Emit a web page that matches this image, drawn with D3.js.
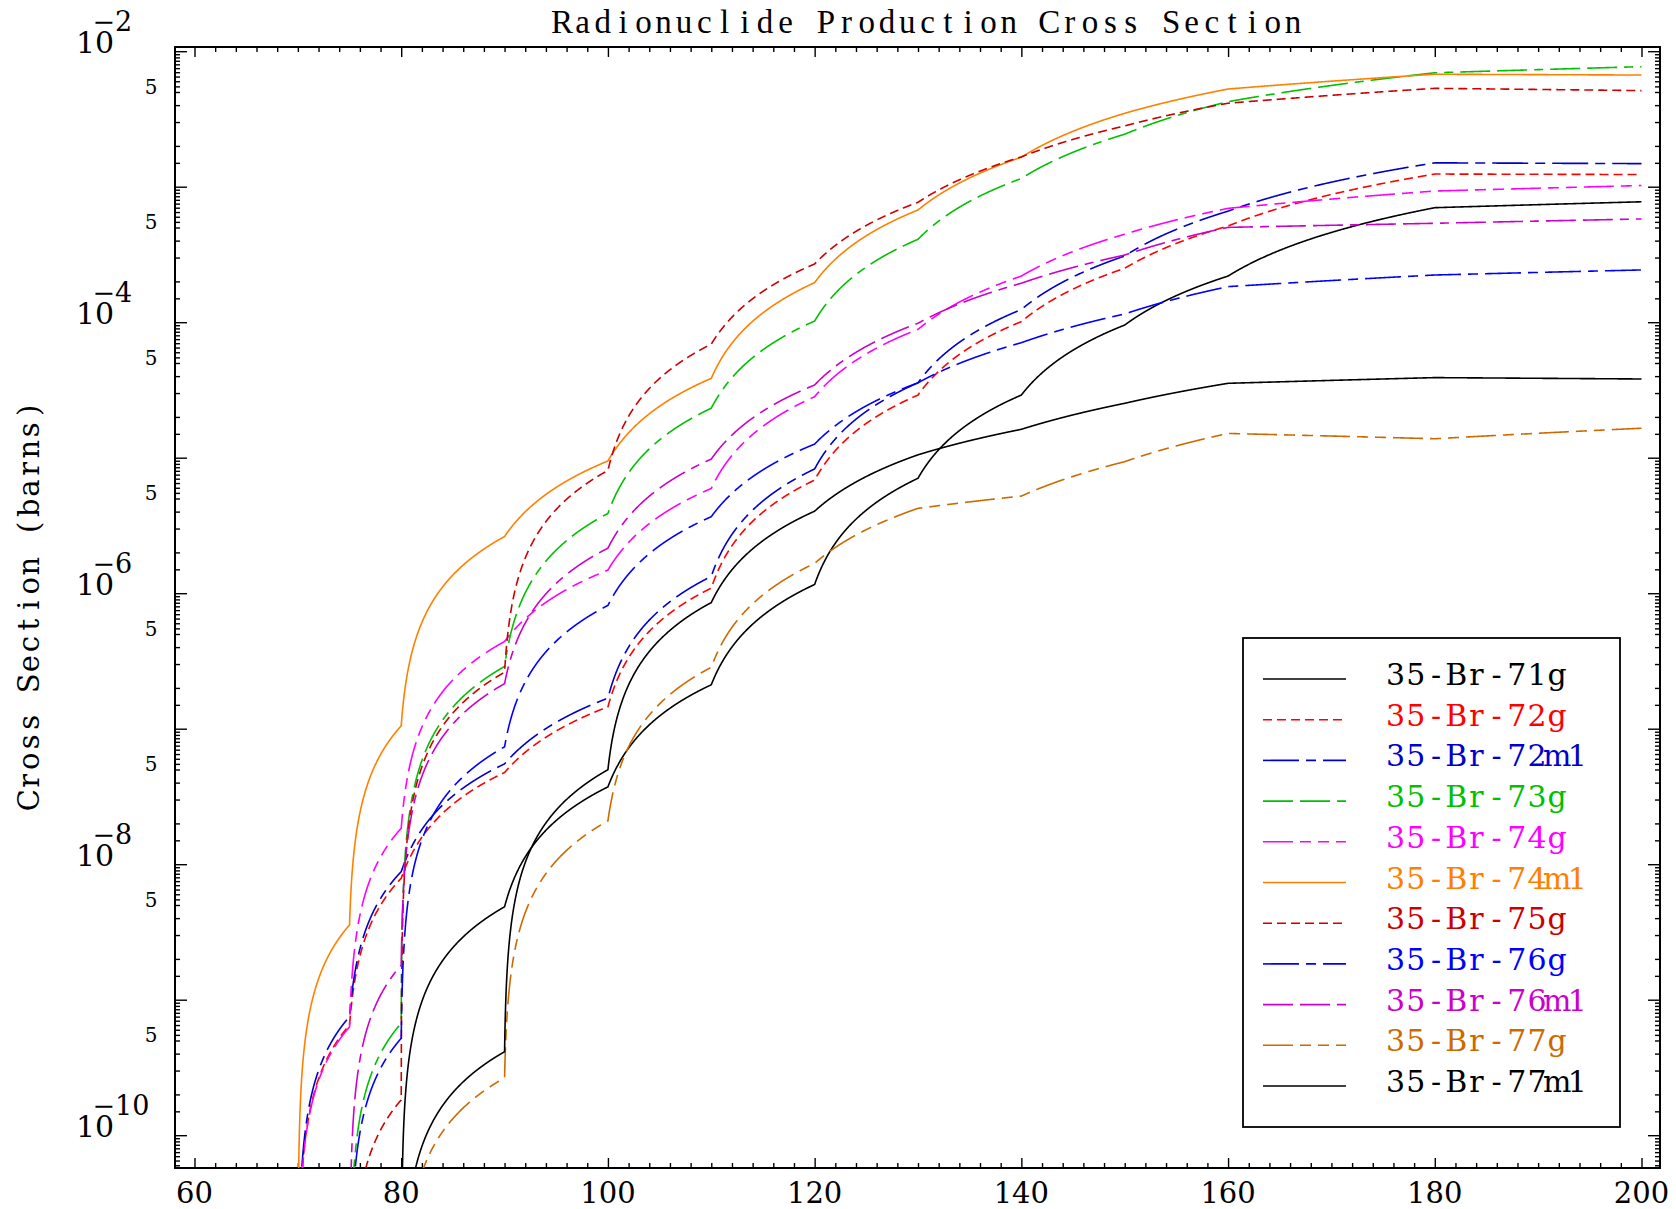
<!DOCTYPE html>
<html>
<head>
<meta charset="utf-8">
<script src="https://d3js.org/d3.v7.min.js"></script>
<style>
body { margin: 0; background: white; }
svg { display: block; }
.axis path.domain { display: none; }
.axis line { stroke: black; stroke-width: 1.4px; }
.axis text { display: none; }
</style>
</head>
<body>
<svg width="1676" height="1209"></svg>
<script>
// proton energies (MeV) where the cross sections are given
const energies = [70, 75, 80, 90, 100, 110, 120, 130, 140, 150, 160, 180, 200];

// cross sections in barns, 0 = below threshold
const br71g  = [0, 0, 0, 4.85e-9, 3.72e-8, 2.11e-7, 1.16e-6, 7.05e-6, 2.90e-5, 9.53e-5, 2.19e-4, 7.00e-4, 7.74e-4];
const br72g  = [0, 6.5e-10, 7.87e-9, 4.75e-8, 1.45e-7, 1.09e-6, 6.84e-6, 2.90e-5, 1.01e-4, 2.50e-4, 5.13e-4, 1.24e-3, 1.23e-3];
const br72m1 = [0, 7.5e-10, 8.81e-9, 5.50e-8, 1.68e-7, 1.33e-6, 8.26e-6, 3.57e-5, 1.24e-4, 3.08e-4, 6.60e-4, 1.50e-3, 1.48e-3];
const br73g  = [0, 0, 6.70e-10, 2.88e-7, 3.88e-6, 2.32e-5, 1.02e-4, 4.09e-4, 1.15e-3, 2.44e-3, 4.24e-3, 6.93e-3, 7.69e-3];
const br74g  = [0, 6.3e-10, 1.84e-8, 4.40e-7, 1.48e-6, 5.93e-6, 2.82e-5, 8.85e-5, 2.19e-4, 4.46e-4, 6.92e-4, 9.29e-4, 1.02e-3];
const br74m1 = [0, 3.56e-9, 1.05e-7, 2.62e-6, 9.46e-6, 3.85e-5, 1.96e-4, 6.73e-4, 1.65e-3, 3.48e-3, 5.26e-3, 6.76e-3, 6.67e-3];
const br75g  = [0, 0, 1.82e-10, 2.61e-7, 8.05e-6, 6.89e-5, 2.69e-4, 7.67e-4, 1.66e-3, 2.81e-3, 4.13e-3, 5.32e-3, 5.12e-3];
const br76g  = [0, 0, 5.19e-10, 7.35e-8, 8.13e-7, 3.67e-6, 1.26e-5, 3.57e-5, 7.06e-5, 1.15e-4, 1.83e-4, 2.23e-4, 2.43e-4];
const br76m1 = [0, 0, 1.80e-9, 2.15e-7, 2.15e-6, 9.77e-6, 3.44e-5, 9.82e-5, 1.94e-4, 3.13e-4, 5.01e-4, 5.37e-4, 5.78e-4];
const br77g  = [0, 0, 0, 2.65e-10, 2.09e-8, 2.84e-7, 1.66e-6, 4.23e-6, 5.21e-6, 9.35e-6, 1.51e-5, 1.38e-5, 1.65e-5];
const br77m1 = [0, 0, 0, 4.13e-10, 4.98e-8, 8.53e-7, 4.03e-6, 1.05e-5, 1.62e-5, 2.52e-5, 3.54e-5, 3.90e-5, 3.81e-5];

const names = ["35-Br-71g", "35-Br-72g", "35-Br-72m1", "35-Br-73g", "35-Br-74g", "35-Br-74m1",
               "35-Br-75g", "35-Br-76g", "35-Br-76m1", "35-Br-77g", "35-Br-77m1"];
const allSeries = [br71g, br72g, br72m1, br73g, br74g, br74m1, br75g, br76g, br76m1, br77g, br77m1];

const xTickLabels = [60, 80, 100, 120, 140, 160, 180, 200];
const yDecadeLabels = [-2, -4, -6, -8, -10];
const yFiveLabels = [-3, -4, -5, -6, -7, -8, -9, -10];

// line styles
const colors = ["#000000", "#ff0000", "#0000cc", "#00c000", "#ff00ff", "#ff8000",
                "#cc0000", "#0000ff", "#cc00cc", "#cc6a00", "#000000"];
const dashes = ["none", "9,5", "36,7,10,7", "30,7,30,7,9,7", "30,7,11,7,11,7", "none",
                "9,5", "36,7,10,7", "30,7,30,7,9,7", "30,7,11,7,11,7", "none"];

const svg = d3.select("svg");
const L = 175, R = 1660, T = 47, B = 1168;

const x = d3.scaleLinear().domain([60, 200]).range([194.5, 1641.5]);
const y = d3.scaleLog().domain([1e-2, 1e-10]).range([51.2, 1135.2]);

// text laid out in fixed-width cells, like the plotter's font
function cellText(g, str, x0, yb, cell, family, size, color) {
  g.append("text")
    .attr("x", str.split("").map((c, i) => (x0 + cell * (i + 0.5)).toFixed(1)).join(" "))
    .attr("y", yb)
    .attr("text-anchor", "middle")
    .style("font-family", family)
    .style("font-size", size + "px")
    .attr("fill", color)
    .text(str);
}

// title
cellText(svg, "Radionuclide Production Cross Section", 552, 32.5, 20.3, "Liberation Serif", 33, "black");

// y axis title
const yt = svg.append("g").attr("transform", "translate(38.5,810) rotate(-90)");
cellText(yt, "Cross Section (barns)", 0, 0, 19.5, "DejaVu Serif", 29, "black");

// ticks
const xMajor = d3.range(60, 201, 20);
const xMinor = d3.range(60, 201, 2).filter(v => v % 20 !== 0);
const yMajor = d3.range(-11, -1).map(n => Math.pow(10, n));
const yMinor = [];
d3.range(-11, -1).forEach(n => {
  [1.5, 2, 3, 4, 5, 5.5, 6, 6.5, 7, 7.5, 8, 8.5, 9, 9.5].forEach(k => {
    const v = k * Math.pow(10, n);
    if (v > y.invert(B) && v < y.invert(T)) yMinor.push(v);
  });
});
const yMajorIn = yMajor.filter(v => v > y.invert(B) && v < y.invert(T));

function addAxis(axis, tr) {
  svg.append("g").attr("class", "axis").attr("transform", tr).call(axis);
}
addAxis(d3.axisBottom(x).tickValues(xMajor).tickSize(-10).tickFormat(""), `translate(0,${B})`);
addAxis(d3.axisBottom(x).tickValues(xMinor).tickSize(-5).tickFormat(""), `translate(0,${B})`);
addAxis(d3.axisTop(x).tickValues(xMajor).tickSize(-10).tickFormat(""), `translate(0,${T})`);
addAxis(d3.axisTop(x).tickValues(xMinor).tickSize(-5).tickFormat(""), `translate(0,${T})`);
addAxis(d3.axisLeft(y).tickValues(yMajorIn).tickSize(-12).tickFormat(""), `translate(${L},0)`);
addAxis(d3.axisLeft(y).tickValues(yMinor).tickSize(-5).tickFormat(""), `translate(${L},0)`);
addAxis(d3.axisRight(y).tickValues(yMajorIn).tickSize(-12).tickFormat(""), `translate(${R},0)`);
addAxis(d3.axisRight(y).tickValues(yMinor).tickSize(-5).tickFormat(""), `translate(${R},0)`);

// frame
svg.append("rect")
  .attr("x", L).attr("y", T).attr("width", R - L).attr("height", B - T)
  .attr("fill", "none").attr("stroke", "black").attr("stroke-width", 2);

// x labels
svg.append("g").selectAll("text").data(xTickLabels).enter().append("text")
  .attr("x", d => x(d)).attr("y", 1203)
  .attr("text-anchor", "middle")
  .style("font-family", "DejaVu Serif").style("font-size", "29px")
  .text(d => d);

// y labels: 10 with a raised exponent (minus drawn over the 0, as in the plot), and the 5s
const ylab = svg.append("g").style("font-family", "DejaVu Serif");
yDecadeLabels.forEach(n => {
  const ty = y(Math.pow(10, n));
  const t = ylab.append("text").attr("x", 76).attr("y", ty + 2).style("font-size", "30px");
  t.append("tspan").text("10");
  t.append("tspan").attr("x", 92.5).attr("y", ty - 20).style("font-size", "27px").text("\u2212");
  t.append("tspan").attr("x", 115).attr("y", ty - 20).style("font-size", "27px").text(-n);
});
yFiveLabels.forEach(n => {
  ylab.append("text").attr("x", 151).attr("y", y(5 * Math.pow(10, n)) + 2)
    .attr("text-anchor", "middle").style("font-size", "20px").text("5");
});

// curves: values vary linearly between the given energies, drawn on the log axis
svg.append("clipPath").attr("id", "plotclip")
  .append("rect").attr("x", L).attr("y", T).attr("width", R - L).attr("height", B - T);

function linlin(vals) {
  const pts = [];
  const N = 400;
  for (let i = 0; i < energies.length - 1; i++) {
    const e0 = energies[i], e1 = energies[i + 1], v0 = vals[i], v1 = vals[i + 1];
    if (v0 <= 0 && v1 <= 0) continue;
    for (let k = 0; k <= N; k++) {
      const t = k / N;
      pts.push([e0 + (e1 - e0) * t, Math.max(v0 + (v1 - v0) * t, 1e-12)]);
    }
  }
  return pts;
}

const line = d3.line().x(d => x(d[0])).y(d => y(d[1]));

svg.append("g").attr("clip-path", "url(#plotclip)")
  .selectAll("path").data(allSeries).enter().append("path")
  .attr("d", d => line(linlin(d)))
  .attr("fill", "none")
  .attr("stroke", (d, i) => colors[i])
  .attr("stroke-width", 1.6)
  .attr("stroke-dasharray", (d, i) => dashes[i]);

// legend
const lg = svg.append("g");
lg.append("rect").attr("x", 1243).attr("y", 638).attr("width", 377).attr("height", 489)
  .attr("fill", "white").attr("stroke", "black").attr("stroke-width", 1.8);
names.forEach((nm, i) => {
  const ly = 679 + 40.7 * i;
  lg.append("line").attr("x1", 1263).attr("x2", 1346).attr("y1", ly).attr("y2", ly)
    .attr("stroke", colors[i]).attr("stroke-width", 1.6).attr("stroke-dasharray", dashes[i]);
  cellText(lg, nm, 1385.5, ly + 6, 20.2, "DejaVu Serif", 30, colors[i]);
});
</script>
</body>
</html>
